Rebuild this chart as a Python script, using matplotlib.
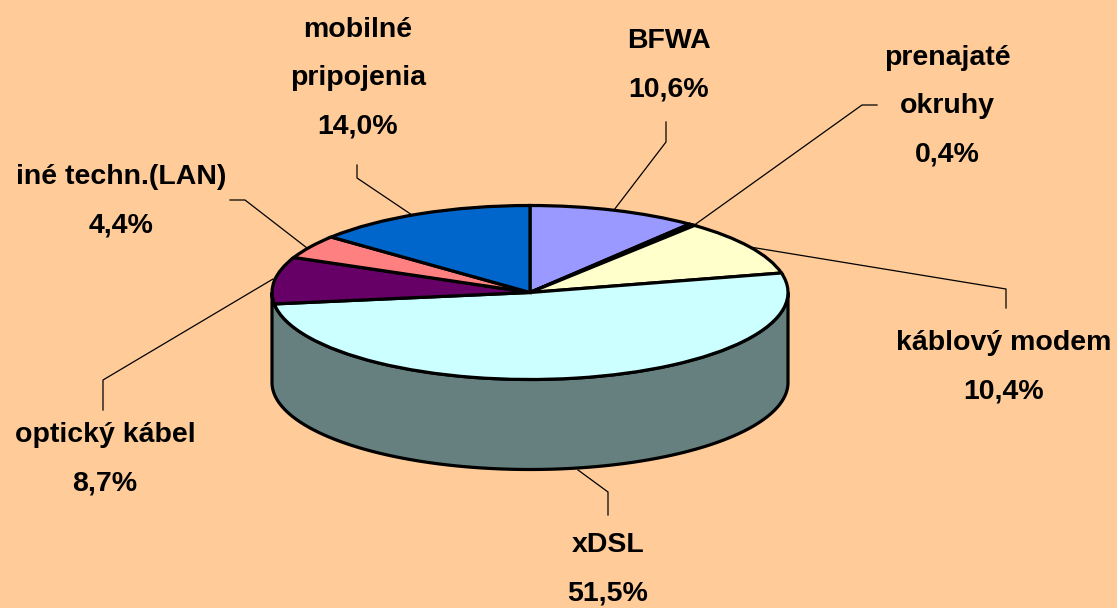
import numpy as np
import matplotlib
matplotlib.use("Agg")
import matplotlib.pyplot as plt
from matplotlib.patches import PathPatch
from matplotlib.path import Path

# Valeurs du graphique
labels = ["BFWA", "prenajaté\nokruhy", "káblový modem", "xDSL", "optický kábel",
          "iné techn.(LAN)", "mobilné\npripojenia"]
values = [10.6, 0.4, 10.4, 51.5, 8.7, 4.4, 14.0]
value_labels = ["10,6%", "0,4%", "10,4%", "51,5%", "8,7%", "4,4%", "14,0%"]
colors = ["#9999FF", "#993366", "#FFFFCC", "#CCFFFF", "#660066", "#FF8080", "#0066CC"]

W, H = 1117, 608
BG = "#FFCC99"
SIDE = "#668080"
CX, CY = 530, 292.5
RX, RY = 258, 87
DEPTH = 90

# Position des textes (centre, pixels) et lignes de rappel
text_pos = [(669, 65), (947, 106), (1004, 367), (608, 569), (105, 459), (121, 201), (358, 78)]
leaders = [
    [(666, 122), (666, 142), (614, 210)],
    [(877, 105), (862, 105), (693, 226)],
    [(1006, 308), (1006, 289), (750, 247)],
    [(608, 515), (608, 492), (578, 470)],
    [(103, 410), (103, 380), (273, 279)],
    [(230, 200), (245, 200), (307, 248)],
    [(357, 165), (357, 178), (412, 215)],
]

fig = plt.figure(figsize=(W / 100, H / 100), dpi=100, facecolor=BG)
ax = fig.add_axes([0, 0, 1, 1])

# Le camembert est ecrase par l'echelle de l'axe : rayon 1 = RX en x, RY en y
wedges, _ = ax.pie(values, colors=colors, startangle=90, counterclock=False, radius=1,
                   center=(0, 0), wedgeprops={"edgecolor": "black", "linewidth": 2.3})
ax.set_aspect("auto")
ax.set_xlim(-CX / RX, (W - CX) / RX)
ax.set_ylim(-(H - CY) / RY, CY / RY)
ax.axis("off")
for w in wedges:
    w.set_zorder(3)

# Tranche laterale : partie basse de l'ellipse, decalee vers le bas
depth_u = DEPTH / RY
t = np.radians(np.linspace(180, 360, 200))
top = np.column_stack([np.cos(t), np.sin(t)])
bot = top[::-1] - [0, depth_u]
side_pts = np.vstack([top, bot, top[:1]])
ax.add_patch(PathPatch(Path(side_pts), facecolor=SIDE, edgecolor="black", linewidth=2.3, zorder=2))

# Lignes de rappel (coordonnees pixels -> axes)
for pts in leaders:
    xs = [p[0] / W for p in pts]
    ys = [1 - p[1] / H for p in pts]
    ax.plot(xs, ys, transform=ax.transAxes, color="black", linewidth=0.9, zorder=4, clip_on=False)

# Textes
for (x, y), lab, val in zip(text_pos, labels, value_labels):
    ax.text(x / W, 1 - y / H, lab + "\n" + val, transform=ax.transAxes, ha="center", va="center",
            family="Liberation Sans", fontweight="bold", fontsize=20.5,
            linespacing=2.12, color="black")

fig.savefig("out.png", dpi=100, facecolor=BG)
